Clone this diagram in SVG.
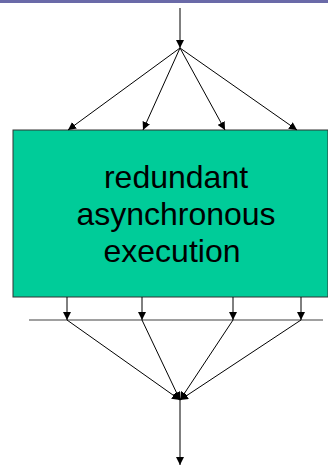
<svg xmlns="http://www.w3.org/2000/svg" width="328" height="466" viewBox="0 0 328 466">
  <style>
    .edge { stroke: #000; stroke-width: 1; fill: none; }
    .rail { stroke: #808080; stroke-width: 1.5; fill: none; }
    .label { font-family: "Liberation Sans", Arial, sans-serif; font-size: 32px; fill: #000; text-anchor: middle; }
  </style>
  <defs>
    <marker id="arrow" viewBox="0 0 10 10" refX="10" refY="5" markerWidth="8" markerHeight="8" markerUnits="userSpaceOnUse" orient="auto">
      <path d="M0,0 L10,5 L0,10 z" fill="#000"/>
    </marker>
  </defs>

  <rect x="0" y="0" width="328" height="3" fill="#6a6aa8"/>

  <g id="execution-block">
    <rect x="13" y="130" width="315" height="167" fill="#00cc99" stroke="#333" stroke-width="1"/>
    <text class="label" x="176" y="188">redundant</text>
    <text class="label" x="176" y="225">asynchronous</text>
    <text class="label" x="172" y="262">execution</text>
  </g>

  <g id="merge-rail">
    <line class="rail" x1="29" y1="320" x2="323" y2="320"/>
  </g>

  <g id="connectors">
    <!-- input and fan-out -->
    <line class="edge" x1="180" y1="8" x2="180" y2="48" marker-end="url(#arrow)"/>
    <line class="edge" x1="180" y1="48" x2="68" y2="130" marker-end="url(#arrow)"/>
    <line class="edge" x1="180" y1="48" x2="143" y2="130" marker-end="url(#arrow)"/>
    <line class="edge" x1="180" y1="48" x2="225" y2="130" marker-end="url(#arrow)"/>
    <line class="edge" x1="180" y1="48" x2="297" y2="130" marker-end="url(#arrow)"/>
    <!-- outputs onto the rail -->
    <line class="edge" x1="67" y1="297" x2="67" y2="320" marker-end="url(#arrow)"/>
    <line class="edge" x1="142" y1="297" x2="142" y2="320" marker-end="url(#arrow)"/>
    <line class="edge" x1="233" y1="297" x2="233" y2="320" marker-end="url(#arrow)"/>
    <line class="edge" x1="301" y1="297" x2="301" y2="320" marker-end="url(#arrow)"/>
    <!-- fan-in and output -->
    <line class="edge" x1="67" y1="320" x2="180" y2="400" marker-end="url(#arrow)"/>
    <line class="edge" x1="142" y1="320" x2="180" y2="400" marker-end="url(#arrow)"/>
    <line class="edge" x1="233" y1="320" x2="180" y2="400" marker-end="url(#arrow)"/>
    <line class="edge" x1="301" y1="320" x2="180" y2="400" marker-end="url(#arrow)"/>
    <line class="edge" x1="180" y1="400" x2="180" y2="465" marker-end="url(#arrow)"/>
  </g>
</svg>
